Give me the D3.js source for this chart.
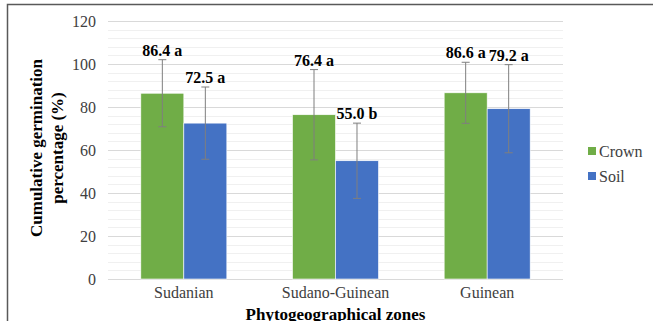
<!DOCTYPE html>
<html>
<head>
<meta charset="utf-8">
<script src="https://cdn.jsdelivr.net/npm/d3@7"></script>
<style>
  body { margin: 0; background: #fff; }
  svg text { font-family: "Liberation Serif", "Times New Roman", Times, serif !important; }
</style>
</head>
<body>
<div id="chart"></div>
<script>
// data
let zones = ["Sudanian", "Sudano-Guinean", "Guinean"];
let seriesNames = ["Crown", "Soil"];
let crownVals = [86.4, 76.4, 86.6];
let soilVals = [72.5, 55.0, 79.2];
let crownErr = [15.6, 21.0, 14.2];
let soilErr = [16.8, 17.5, 20.5];
let crownLetters = ["a", "a", "a"];
let soilLetters = ["a", "b", "a"];
let yTicks = [0, 20, 40, 60, 80, 100, 120];

let colors = { Crown: "#70ad47", Soil: "#4472c4" };

let width = 653, height = 321;
let margin = { left: 108, right: 90, top: 21, bottom: 42 };

let svg = d3.select("#chart").append("svg")
  .attr("width", width)
  .attr("height", height);

// outer frame
svg.append("path")
  .attr("d", "M7.5," + height + " V4.5 H" + width)
  .attr("fill", "none")
  .attr("stroke", "#595959")
  .attr("stroke-width", 1.5);

let x0 = d3.scaleBand()
  .domain(zones)
  .range([margin.left, width - margin.right])
  .paddingInner(0.433)
  .paddingOuter(0.2165);

let x1 = d3.scaleBand()
  .domain(seriesNames)
  .range([0, x0.bandwidth()]);

let y = d3.scaleLinear()
  .domain([0, 120])
  .range([height - margin.bottom, margin.top]);

// minor gridlines
svg.append("g")
  .selectAll("line")
  .data(d3.range(4, 120, 4).filter(v => v % 20 != 0))
  .enter().append("line")
  .attr("x1", margin.left).attr("x2", width - margin.right)
  .attr("y1", d => Math.round(y(d)) + 0.5).attr("y2", d => Math.round(y(d)) + 0.5)
  .attr("stroke", "#f0f0f0");

// major gridlines
svg.append("g")
  .selectAll("line")
  .data(yTicks)
  .enter().append("line")
  .attr("x1", margin.left).attr("x2", width - margin.right)
  .attr("y1", d => Math.round(y(d)) + 0.5).attr("y2", d => Math.round(y(d)) + 0.5)
  .attr("stroke", "#d9d9d9");

// y axis labels
let yAxis = svg.append("g")
  .attr("transform", "translate(" + (margin.left - 12) + ",0)")
  .call(d3.axisLeft(y).tickValues(yTicks).tickSize(0).tickPadding(0));
yAxis.select(".domain").remove();
yAxis.selectAll("text")
  .attr("font-size", 16)
  .attr("fill", "#404040");

// x axis labels
let xAxis = svg.append("g")
  .attr("transform", "translate(0," + y(0) + ")")
  .call(d3.axisBottom(x0).tickSize(0).tickPadding(8));
xAxis.select(".domain").remove();
xAxis.selectAll("text")
  .attr("font-size", 16)
  .attr("fill", "#404040");

let rows = zones.map((z, i) => ({
  zone: z,
  items: [
    { key: "Crown", val: crownVals[i], err: crownErr[i], letter: crownLetters[i] },
    { key: "Soil", val: soilVals[i], err: soilErr[i], letter: soilLetters[i] }
  ]
}));

let groups = svg.selectAll(".grp")
  .data(rows)
  .enter().append("g")
  .attr("class", "grp")
  .attr("transform", d => "translate(" + x0(d.zone) + ",0)");

groups.selectAll("rect")
  .data(d => d.items)
  .enter().append("rect")
  .attr("x", d => x1(d.key))
  .attr("y", d => y(d.val))
  .attr("width", x1.bandwidth())
  .attr("height", d => y(0) - y(d.val))
  .attr("fill", d => colors[d.key])
  .attr("stroke", "#ffffff")
  .attr("stroke-width", 0.6);

// error bars
let eb = groups.selectAll(".err")
  .data(d => d.items)
  .enter().append("g")
  .attr("class", "err")
  .attr("transform", d => "translate(" + (x1(d.key) + x1.bandwidth() / 2) + ",0)");

eb.append("line")
  .attr("x1", 0).attr("x2", 0)
  .attr("y1", d => y(d.val + d.err)).attr("y2", d => y(d.val - d.err))
  .attr("stroke", "#7f7f7f").attr("stroke-width", 1);
eb.append("line")
  .attr("x1", -4).attr("x2", 4)
  .attr("y1", d => y(d.val + d.err)).attr("y2", d => y(d.val + d.err))
  .attr("stroke", "#7f7f7f").attr("stroke-width", 1);
eb.append("line")
  .attr("x1", -4).attr("x2", 4)
  .attr("y1", d => y(d.val - d.err)).attr("y2", d => y(d.val - d.err))
  .attr("stroke", "#7f7f7f").attr("stroke-width", 1);

// value labels
groups.selectAll(".lbl")
  .data(d => d.items)
  .enter().append("text")
  .attr("class", "lbl")
  .attr("x", d => x1(d.key) + x1.bandwidth() / 2)
  .attr("y", d => y(d.val + d.err) - 4)
  .attr("text-anchor", "middle")
  .attr("font-weight", "bold")
  .attr("font-size", 16)
  .attr("fill", "#000")
  .text(d => d.val.toFixed(1) + " " + d.letter);

// axis titles
svg.append("text")
  .attr("x", (margin.left + width - margin.right) / 2)
  .attr("y", 320)
  .attr("text-anchor", "middle")
  .attr("font-weight", "bold")
  .attr("font-size", 17)
  .text("Phytogeographical zones");

let yt = svg.append("text")
  .attr("transform", "translate(42,148) rotate(-90)")
  .attr("text-anchor", "middle")
  .attr("font-weight", "bold")
  .attr("font-size", 17);
yt.append("tspan").attr("x", 0).attr("y", 0).text("Cumulative germination");
yt.append("tspan").attr("x", 0).attr("y", 21).text("percentage (%)");

// legend
let legend = svg.selectAll(".leg")
  .data(seriesNames)
  .enter().append("g")
  .attr("class", "leg")
  .attr("transform", (d, i) => "translate(588," + (152 + i * 25) + ")");
legend.append("rect")
  .attr("x", 0).attr("y", -5)
  .attr("width", 8).attr("height", 8)
  .attr("fill", d => colors[d]);
legend.append("text")
  .attr("x", 11).attr("y", 5)
  .attr("font-size", 16)
  .attr("fill", "#404040")
  .text(d => d);
</script>
</body>
</html>
